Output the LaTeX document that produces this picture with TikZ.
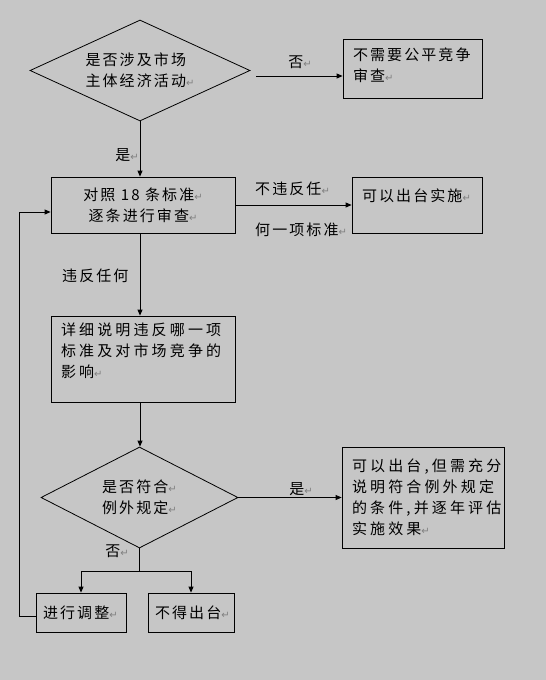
\documentclass[tikz,border=0pt]{standalone}
\usepackage{fontspec}
\setmainfont{Noto Sans CJK SC}[LetterSpace=14]
\newfontfamily\widefont{Noto Sans CJK SC}[LetterSpace=21]
\newfontfamily\dvfont{DejaVu Sans}
\usetikzlibrary{shapes.geometric,arrows.meta,calc}
\definecolor{bgc}{RGB}{198,198,198}
\definecolor{retc}{RGB}{128,128,128}
\newcommand\rt{{\dvfont\color{retc}\fontsize{10}{10}\selectfont ↵}}
\begin{document}
\begin{tikzpicture}[x=1pt,y=-1pt,
  every node/.style={font=\fontsize{15}{21}\selectfont},
  box/.style={draw,line width=0.8pt,rectangle,inner sep=0pt},
  dia/.style={draw,line width=0.8pt,diamond,aspect=2.2,inner sep=0pt,align=left},
  arr/.style={-{Triangle[length=6pt,width=5pt]},line width=0.8pt},
  ln/.style={line width=0.8pt},
  lbl/.style={inner sep=0pt}]
\fill[bgc] (0,0) rectangle (546,680);
\useasboundingbox (0,0) rectangle (546,680);
% nodes
\node[dia,minimum width=220pt,minimum height=101pt] (d1) at (140,70.5) {是否涉及市场\\主体经济活动\rt};
\node[box,minimum width=139pt,minimum height=59pt,text width=119pt,align=left,text depth=29pt] (b1) at (412.5,68.5) {不需要公平竞争\\审查\rt};
\node[box,minimum width=184pt,minimum height=56pt,align=center] (b2) at (143,205) {对照 18 条标准\rt\\逐条进行审查\rt};
\node[box,minimum width=130pt,minimum height=56pt,text width=110pt,align=left,text depth=19pt] (b3) at (417,205) {可以出台实施\rt};
\node[box,minimum width=184pt,minimum height=86pt,text width=164pt,align=left,text depth=59pt,font=\widefont\fontsize{15}{21}\selectfont] (b4) at (143,359) {详细说明违反哪一项\\标准及对市场竞争的\\影响\rt};
\node[dia,minimum width=197pt,minimum height=101pt] (d2) at (139.5,497.5) {是否符合\rt\\例外规定\rt};
\node[box,minimum width=162pt,minimum height=101pt,text width=142pt,align=left,font=\widefont\fontsize{15}{21}\selectfont] (b5) at (423,497.5) {可以出台,但需充分\\说明符合例外规定\\的条件,并逐年评估\\实施效果\rt};
\node[box,minimum width=90pt,minimum height=39pt,text width=76pt,align=left] (b6) at (81,612.5) {进行调整\rt};
\node[box,minimum width=86pt,minimum height=39pt,text width=72pt,align=left] (b7) at (191,612.5) {不得出台\rt};
% labels
\node[lbl] (l1) at (300,62) {否\rt};
\node[lbl] (l2) at (127,155) {是\rt};
\node[lbl,anchor=west] (l3) at (255,189) {不违反任\rt};
\node[lbl,anchor=west] (l4) at (255,230) {何一项标准\rt};
\node[lbl,anchor=west] (l5) at (62,276) {违反任何};
\node[lbl] (l6) at (301,489) {是\rt};
\node[lbl] (l7) at (117,551) {否\rt};
% connectors
\coordinate (c1) at (256,76);
\draw[arr] (c1) -- (b1.west |- c1);
\draw[arr] (d1.south) -- (d1.south |- b2.north);
\draw[arr] (b2.east) -- (b3.west);
\draw[arr] (d1.south |- b2.south) -- (d1.south |- b4.north);
\draw[arr] (d1.south |- b4.south) -- (d1.south |- d2.north);
\draw[arr] (d2.east) -- (b5.west);
\coordinate (sp) at (139.5,571);
\draw[ln] (d2.south) -- (sp);
\draw[arr] (sp) -| (b6.north);
\draw[arr] (sp) -| (b7.north);
\coordinate (lp) at (19,616);
\draw[arr] (b6.west |- lp) -- (lp) |- ($(b2.west)+(0,7)$);
\end{tikzpicture}
\end{document}
